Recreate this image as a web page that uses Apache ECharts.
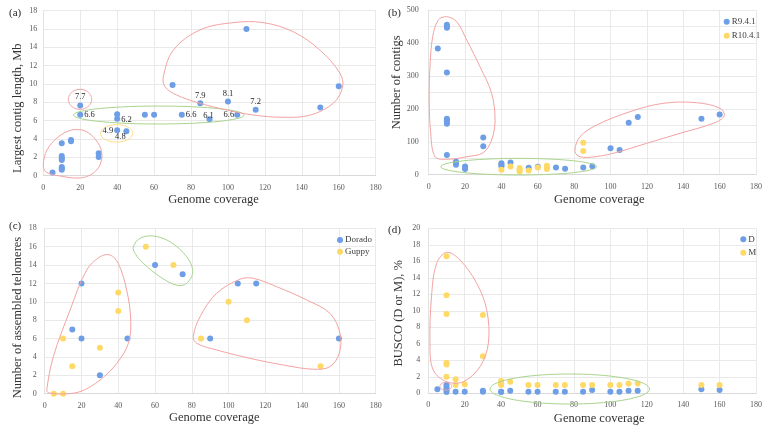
<!DOCTYPE html>
<html>
<head>
<meta charset="utf-8">
<script src="https://cdn.jsdelivr.net/npm/echarts@6/dist/echarts.min.js"></script>
<style>html,body{margin:0;padding:0;background:#fff}#c{width:765px;height:428px}</style>
</head>
<body>
<div id="c"></div>
<script>
// ---------- DATA ----------
const xTicks = [0, 20, 40, 60, 80, 100, 120, 140, 160, 180];

// (a) Largest contig length, Mb
const covA = [5,10,10,10,10,10,10,10,15,15,20,20,30,30,40,40,40,45,55,60,70,75,85,90,100,105,110,115,150,160];
const lenA = [0.35,3.55,2.15,1.9,1.7,0.95,0.8,0.65,3.9,3.75,7.65,6.65,2.45,2.05,6.7,6.2,4.95,4.85,6.65,6.65,9.9,6.65,7.9,6.15,8.1,6.65,16,7.2,7.45,9.75];
const labA = ['','','','','','','','','','','7.7','6.6','','','','6.2','4.9','4.8','','','','6.6','7.9','6.1','8.1','6.6','','7.2','',''];

// (b) Number of contigs
const covB1 = [5,10,10,10,10,10,10,10,10,10,15,15,15,20,20,20,30,30,40,40,40,45,55,60,70,75,85,90,100,105,110,115,150,160];
const numB1 = [383,455,450,446,310,170,165,160,155,60,40,35,30,25,21,17,113,86,35,30,26,37,21,24,22,18,22,26,80,75,158,175,170,183];
const covB2 = [40,45,50,50,50,55,60,65,65,65,85,85];
const numB2 = [15,25,20,15,10,13,22,27,22,17,97,72];

// (c) Number of assembled telomeres
const covC1 = [15,20,20,30,45,60,75,90,105,115,160];
const telC1 = [7,12,6,2,6,14,13,6,12,12,6];
const covC2 = [5,10,10,15,30,40,40,55,70,85,100,110,150];
const telC2 = [0,0,6,3,5,11,9,16,14,6,10,8,3];

// (d) BUSCO (D or M), %
const covD = [5,10,10,10,10,15,20,30,30,40,40,45,55,60,70,75,85,90,100,105,110,115,150,160];
const valD = [0.5,1.0,0.7,0.4,0.15,0.2,0.2,0.3,0.2,0.2,0.15,0.3,0.2,0.2,0.2,0.2,0.2,0.4,0.2,0.2,0.3,0.3,0.5,0.4];
const covM = [10,10,10,10,10,10,15,15,20,30,30,40,40,40,45,55,60,70,75,85,90,100,105,110,115,150,160];
const valM = [16.6,11.9,9.6,3.7,3.5,2.0,1.7,1.0,1.1,9.5,4.5,1.5,1.2,1.0,1.4,1.0,1.0,1.0,1.0,1.0,1.0,1.0,1.0,1.2,1.2,1.0,1.0];

// annotation outlines (data coordinates)
const outlineA_big = [[65,10.8],[70.4,13.7],[84.8,15.9],[102.9,16.7],[119.1,16.7],[135.4,15.7],[149.8,13.7],[160.6,11.2],[162.1,9.7],[157,7.9],[144.4,6.6],[129.9,6.37],[113.7,6.62],[99.3,7.17],[84.8,7.9],[72.2,8.8],[65.9,9.7]];
const outlineA_low = [[0,1.17],[2,2.8],[8,4.22],[15.5,4.99],[22.6,4.88],[28.5,3.9],[31.6,2.59],[30.7,1.17],[26.4,0.19],[19.9,-0.25],[9,-0.03],[1.5,0.4]];
const ellA_small = [19.9, 8.33, 6.3, 1.09];
const ellA_green = [62.5, 6.62, 46.2, 0.98];
const ellA_yellow = [39.7, 4.62, 8.66, 0.95];

const outlineB_tall = [[9.9,479.7],[5.3,469.6],[2.2,419],[0.7,327.9],[0.3,226.8],[1.1,125.7],[3.5,54.6],[9.9,46.7],[20.9,54.6],[30,66.8],[34.6,105.3],[36.5,166],[34.6,247],[28.2,327.9],[20.9,408.9],[15.4,464.5]];
const outlineB_right = [[80.4,75],[83.2,115.4],[92.4,150.9],[110.7,191.3],[129,216.8],[147.3,218.6],[160.2,201.6],[162.5,178.2],[156.5,156],[138.2,125.7],[119.9,95.3],[101.5,65],[88.7,52.8],[82.2,56.8]];
const ellB_green = [49.5, 24.3, 42.8, 25.3];

const outlineC_left = [[1.1,0.4],[4.7,4.03],[13.8,9.1],[22.8,13.46],[30.1,14.9],[35.5,15.1],[40,14.19],[44.6,11.28],[46.8,8.02],[45.5,5.48],[39.2,3.3],[30.1,1.49],[19.2,0.22],[8.3,-0.03],[2,0.11]];
const outlineC_green = [[48.2,16],[51.8,16.91],[59.1,17.16],[68.1,16.54],[77.2,14.91],[80.5,13.28],[77.2,12.01],[71.8,11.8],[62.7,12.73],[53.6,14.19],[49.1,15.28]];
const outlineC_right = [[80.8,6.2],[84.5,8.38],[93.5,10.93],[106.2,12.46],[113.4,12.56],[126.2,11.64],[142.5,10.2],[155.1,8.75],[160.6,6.57],[160.2,4.4],[155.1,2.94],[146.1,2.66],[129.8,3.12],[111.6,3.85],[93.5,4.76],[82.7,5.48]];

const outlineD_tall = [[10.1,17.09],[4.6,15.76],[1.9,12.12],[0.9,6.06],[2.7,2.82],[10.1,1.41],[19.2,1.41],[28.4,3.22],[33,6.06],[32.1,10.1],[26.6,13.33],[17.4,16.16]];
const ellD_small = [9.6, 0.86, 3.2, 0.47];
const ellD_green = [77.7, 0.52, 43.8, 1.82];

// ---------- STYLE ----------
const SERIF = '"Liberation Serif", "DejaVu Serif", serif';
const BLUE = '#6D9EE6';
const YELLOW = '#FFD966';
const PINK = '#F4A3A3';
const GREEN = '#A9D48F';
const YEL_LINE = '#FFDD80';
const NAME_SIZE = 12.5;

const zip = (xs, ys) => xs.map((x, i) => [x, ys[i]]);

function shapeSeries(idx, shapes) {
  return {
    type: 'custom', xAxisIndex: idx, yAxisIndex: idx, silent: true, clip: false, z: 3,
    data: shapes.map(s => s.pts ? s.pts[0] : [s.e[0], s.e[1]]),
    renderItem: function (params, api) {
      const s = shapes[params.dataIndex];
      let pts;
      if (s.pts) {
        pts = s.pts.map(p => api.coord(p));
      } else {
        const c = api.coord([s.e[0], s.e[1]]);
        const sz = api.size([s.e[2], s.e[3]], [s.e[0], s.e[1]]);
        pts = [];
        for (let k = 0; k < 72; k++) {
          const t = k / 72 * Math.PI * 2;
          pts.push([c[0] + sz[0] * Math.cos(t), c[1] + sz[1] * Math.sin(t)]);
        }
      }
      return {
        type: 'polygon',
        shape: { points: pts, smooth: s.pts ? 0.35 : 0 },
        style: { fill: 'none', stroke: s.c, lineWidth: 1 }
      };
    }
  };
}

const grids = [
  { left: 43.3, top: 10.7, width: 332.4, height: 165 },
  { left: 428.7, top: 10, width: 327.3, height: 164.7 },
  { left: 44.7, top: 228.3, width: 331, height: 165.4 },
  { left: 428.3, top: 228.3, width: 327.7, height: 165 }
];

function xAxis(i, gap, padL) {
  return {
    type: 'value', gridIndex: i, min: 0, max: 180, interval: 20,
    name: 'Genome coverage', nameLocation: 'middle', nameGap: gap,
    nameTextStyle: { fontFamily: SERIF, fontSize: NAME_SIZE, color: '#333', padding: [0, 0, 0, padL] },
    axisLine: { show: true, lineStyle: { color: '#d9d9d9' } },
    axisTick: { show: false },
    axisLabel: { fontFamily: SERIF, fontSize: 8, color: '#595959', margin: 8,
      formatter: v => xTicks.indexOf(v) >= 0 ? String(v) : '' },
    splitLine: { show: true, lineStyle: { color: '#e9e9e9' } }
  };
}
function yAxis(i, name, max, interval, gap, pad, margin, extra) {
  return Object.assign({
    type: 'value', gridIndex: i, min: 0, max: max, interval: interval,
    name: name, nameLocation: 'middle', nameGap: gap,
    nameTextStyle: { fontFamily: SERIF, fontSize: NAME_SIZE, color: '#333', padding: pad },
    axisLine: { show: true, lineStyle: { color: '#e3e3e3' } },
    axisTick: { show: false },
    axisLabel: { fontFamily: SERIF, fontSize: 8, color: '#595959', margin: margin },
    splitLine: { show: true, lineStyle: { color: '#e9e9e9' } }
  }, extra || {});
}

// label placement for panel (a)
const labPlacement = {
  '10': { position: 'top', distance: 1 },
  '11': { position: 'right', distance: 1 },
  '15': { position: 'right', distance: 1, offset: [0, 1] },
  '16': { position: 'left', distance: 1 },
  '17': { position: 'inside', offset: [-6, 6] },
  '21': { position: 'right', distance: 1 },
  '22': { position: 'top', distance: 0 },
  '23': { position: 'inside', offset: [-1, -4] },
  '24': { position: 'top', distance: 0 },
  '25': { position: 'left', distance: 0 },
  '27': { position: 'top', distance: 0 }
};
const dataA = covA.map((x, i) => {
  const item = { value: [x, lenA[i]] };
  if (labA[i]) {
    item.label = Object.assign({ show: true, formatter: labA[i], fontFamily: SERIF, fontSize: 8.5, color: '#262626' }, labPlacement[String(i)]);
  }
  return item;
});

const scat = (name, idx, data, color, z) => ({
  name: name, type: 'scatter', xAxisIndex: idx, yAxisIndex: idx, data: data,
  symbolSize: 6, itemStyle: { color: color, opacity: 1 }, z: z || 2
});

const legendBase = {
  orient: 'vertical', icon: 'circle', itemWidth: 6, itemHeight: 6,
  textStyle: { fontFamily: SERIF, fontSize: 9, color: '#404040', lineHeight: 10, padding: [0, 0, 0, -3] }
};

const chart = echarts.init(document.getElementById('c'), null, { renderer: 'canvas' });
chart.setOption({
  animation: false,
  backgroundColor: '#fff',
  title: [
    { text: '(a)', left: 4, top: 3, textStyle: { fontFamily: SERIF, fontSize: 11, fontWeight: 'normal', color: '#262626' } },
    { text: '(b)', left: 383, top: 3, textStyle: { fontFamily: SERIF, fontSize: 11, fontWeight: 'normal', color: '#262626' } },
    { text: '(c)', left: 4, top: 216, textStyle: { fontFamily: SERIF, fontSize: 11, fontWeight: 'normal', color: '#262626' } },
    { text: '(d)', left: 383, top: 220, textStyle: { fontFamily: SERIF, fontSize: 11, fontWeight: 'normal', color: '#262626' } }
  ],
  legend: [
    Object.assign({}, legendBase, { data: ['R9.4.1', 'R10.4.1'], left: 718.7, top: 11.7, itemGap: 4 }),
    Object.assign({}, legendBase, { data: ['Dorado', 'Guppy'], left: 332, top: 230, itemGap: 1.7 }),
    Object.assign({}, legendBase, { data: ['D', 'M'], left: 735.3, top: 229.3, itemGap: 3.4 })
  ],
  grid: grids,
  xAxis: [xAxis(0, 17.5, 8), xAxis(1, 18.5, 14), xAxis(2, 18, 8), xAxis(3, 18.5, 14)],
  yAxis: [
    yAxis(0, 'Largest contig length, Mb', 18, 2, 19, [0, 30, 0, 0], 6),
    yAxis(1, 'Number of contigs', 500, 100, 22, [0, 0, 0, 20], 10, { minorSplitLine: { show: true, lineStyle: { color: '#e9e9e9' } }, minorTick: { show: false, splitNumber: 2 } }),
    yAxis(2, 'Number of assembled telomeres', 18, 2, 20.5, [0, 13, 0, 0], 8),
    yAxis(3, 'BUSCO (D or M), %', 20, 2, 23.5, [0, 5, 0, 0], 8)
  ],
  series: [
    scat('A', 0, dataA, BLUE),
    shapeSeries(0, [
      { e: ellA_small, c: PINK },
      { e: ellA_green, c: GREEN },
      { e: ellA_yellow, c: YEL_LINE },
      { pts: outlineA_big, c: PINK },
      { pts: outlineA_low, c: PINK }
    ]),
    scat('R9.4.1', 1, zip(covB1, numB1), BLUE),
    scat('R10.4.1', 1, zip(covB2, numB2), YELLOW),
    shapeSeries(1, [
      { pts: outlineB_tall, c: PINK },
      { e: ellB_green, c: GREEN },
      { pts: outlineB_right, c: PINK }
    ]),
    scat('Dorado', 2, zip(covC1, telC1), BLUE),
    scat('Guppy', 2, zip(covC2, telC2), YELLOW),
    shapeSeries(2, [
      { pts: outlineC_left, c: PINK },
      { pts: outlineC_green, c: GREEN },
      { pts: outlineC_right, c: PINK }
    ]),
    scat('D', 3, zip(covD, valD), BLUE),
    scat('M', 3, zip(covM, valM), YELLOW),
    shapeSeries(3, [
      { pts: outlineD_tall, c: PINK },
      { e: ellD_small, c: PINK },
      { e: ellD_green, c: GREEN }
    ])
  ]
});
</script>
</body>
</html>
